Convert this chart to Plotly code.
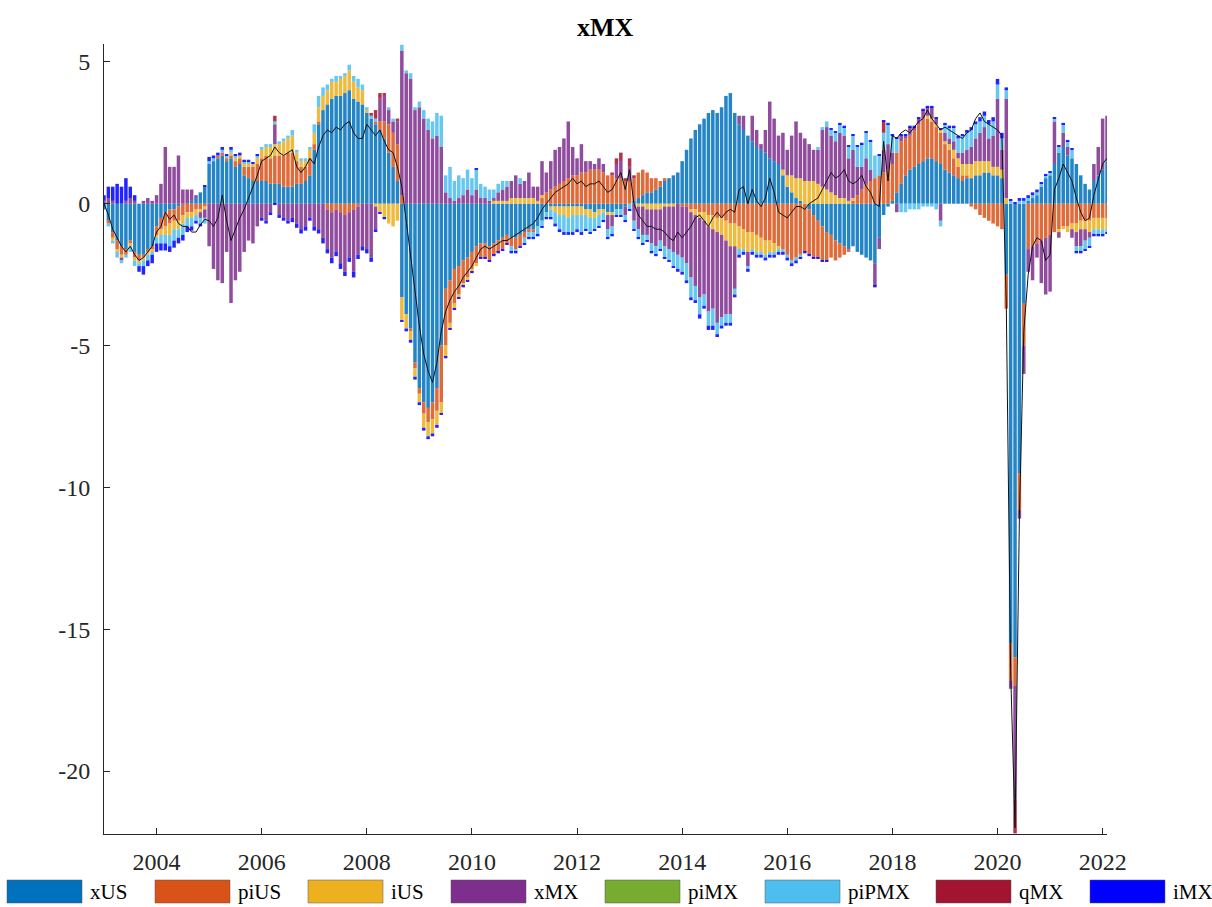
import plotly.graph_objects as go

# Historical decomposition of xMX, monthly contributions Jan 2003 - Feb 2022
START_YEAR = 2003

xUS = [
    -0.2, -0.6, -1.0, -1.3, -1.5, -1.6, -1.3, -1.7, -1.8, -1.8, -1.6, -1.5,   # 2003
    -0.8, -0.5, -0.3, -0.2, -0.2, -0.1, 0.0, 0.0, 0.1, 0.2, 0.4, 0.6,         # 2004
    1.4, 1.5, 1.6, 1.7, 1.5, 1.6, 1.3, 1.4, 1.0, 0.9, 0.8, 0.8,               # 2005
    0.8, 0.8, 0.7, 0.7, 0.7, 0.6, 0.6, 0.6, 0.7, 0.7, 0.8, 1.0,               # 2006
    1.9, 2.8, 3.3, 3.5, 3.7, 3.8, 3.8, 3.9, 4.0, 3.7, 3.6, 3.5,               # 2007
    3.2, 3.0, 2.8, 2.6, 2.3, 1.8, 1.3, 0.8, -3.3, -3.9, -4.4, -5.6,           # 2008
    -6.5, -7.0, -7.2, -7.0, -6.5, -5.0, -3.0, -2.7, -2.3, -2.2, -2.0, -1.9,   # 2009
    -1.7, -1.5, -1.4, -1.4, -1.5, -1.4, -1.3, -1.2, -1.1, -1.2, -1.2, -1.1,   # 2010
    -1.0, -0.9, -0.9, -0.8, -0.6, -0.3, -0.1, -0.1, -0.1, -0.1, -0.1, -0.1,   # 2011
    -0.1, -0.1, -0.2, -0.2, -0.3, -0.2, -0.2, -0.3, -0.3, -0.2, -0.2, -0.1,   # 2012
    0.0, 0.1, 0.2, 0.3, 0.4, 0.4, 0.5, 0.6, 0.8, 0.9, 1.0, 1.1,               # 2013
    1.5, 1.9, 2.3, 2.6, 2.8, 3.0, 3.2, 3.3, 3.2, 3.4, 3.8, 3.9,               # 2014
    3.2, 2.8, 2.6, 2.4, 2.2, 2.0, 1.9, 1.8, 1.6, 1.5, 1.4, 1.0,               # 2015
    0.6, 0.4, 0.2, 0.1, 0.0, -0.2, -0.4, -0.6, -0.8, -1.0, -1.1, -1.3,        # 2016
    -1.4, -1.5, -1.6, -1.5, -1.7, -1.8, -1.9, -2.0, -2.1, -1.2, -0.4, -0.1,   # 2017
    0.1, 0.4, 0.7, 1.0, 1.2, 1.3, 1.4, 1.5, 1.6, 1.6, 1.5, 1.4,               # 2018
    1.2, 1.1, 1.0, 0.9, 0.8, 0.9, 0.9, 1.0, 1.0, 1.1, 1.1, 1.0,               # 2019
    1.0, 0.9, -2.5, -15.5, -16.0, -9.5, -3.5, 0.1, 0.2, 0.3, 0.6, 0.9,        # 2020
    1.0, 1.4, 1.8, 2.0, 1.7, 1.6, 1.4, 1.0, 0.7, 0.5, 0.8, 1.0,               # 2021
    1.2, 1.5,                                                                 # 2022
]

piUS = [
    0.0, -0.1, -0.2, -0.3, -0.3, -0.2, -0.1, -0.2, -0.2, -0.1, -0.1, -0.1,
    -0.3, -0.4, -0.5, -0.5, -0.4, -0.5, -0.4, -0.3, -0.3, -0.2, -0.2, -0.1,
    0.0, 0.0, 0.1, 0.1, 0.1, 0.1, 0.2, 0.2, 0.3, 0.4, 0.5, 0.6,
    0.8, 0.9, 0.9, 1.0, 1.0, 1.1, 1.2, 1.2, 0.8, 0.6, 0.5, 0.6,
    0.2, 0.1, 0.0, -0.2, -0.3, -0.2, -0.3, -0.4, -0.3, -0.2, -0.1, 0.0,
    0.0, 0.0, 0.1, 0.3, 0.6, 1.0, 1.2, 1.3, 0.3, 0.0, -0.1, -0.2,
    -0.2, -0.4, -0.5, -0.6, -0.8, -2.0, -2.0, -1.5, -1.2, -1.0, -0.8, -0.7,
    -0.6, -0.6, -0.5, -0.5, -0.5, -0.4, -0.4, -0.4, -0.3, -0.3, -0.4, -0.4,
    -0.2, -0.1, -0.1, 0.0, 0.2, 0.4, 0.5, 0.6, 0.7, 0.8, 0.9, 1.0,
    1.0, 1.1, 1.1, 1.2, 1.2, 1.2, 1.1, 1.0, 1.0, 0.9, 0.9, 0.8,
    0.8, 0.8, 0.9, 0.9, 0.7, 0.5, 0.4, 0.2, 0.1, 0.0, 0.0, 0.0,
    -0.1, -0.1, -0.2, -0.2, -0.3, -0.3, -0.4, -0.4, -0.5, -0.5, -0.6, -0.7,
    -0.7, -0.8, -0.9, -1.0, -1.0, -1.1, -1.2, -1.3, -1.3, -1.4, -1.5, -1.6,
    -1.8, -2.0, -1.9, -1.8, -1.7, -1.6, -1.5, -1.3, -1.2, -1.0, -0.8, -0.7,
    -0.5, -0.3, -0.1, 0.1, 0.3, 0.5, 0.7, 0.8, 0.9, 1.0, 1.1, 1.2,
    1.3, 1.4, 1.5, 1.3, 1.2, 1.3, 1.4, 1.5, 1.4, 1.3, 1.2, 1.1,
    0.9, 0.8, 0.6, 0.4, 0.2, 0.1, -0.1, -0.2, -0.4, -0.5, -0.6, -0.7,
    -0.8, -0.9, -1.2, -1.3, -1.0, -1.3, -1.5, -1.6, -1.5, -1.4, -1.3, -1.2,
    -1.1, -1.0, -0.9, -0.8, -0.8, -0.7, -0.7, -0.6, -0.6, -0.6, -0.5, -0.5,
    -0.5, -0.5,
]

iUS = [
    0.0, 0.0, -0.1, -0.1, -0.1, 0.0, -0.1, -0.1, -0.1, -0.1, -0.1, -0.1,
    -0.1, -0.2, -0.3, -0.4, -0.3, -0.3, -0.3, -0.2, -0.2, -0.2, -0.1, -0.1,
    0.0, 0.0, 0.0, 0.0, 0.0, 0.1, 0.1, 0.1, 0.1, 0.1, 0.1, 0.2,
    0.3, 0.3, 0.4, 0.4, 0.4, 0.5, 0.5, 0.6, 0.3, 0.2, 0.2, 0.3,
    0.4, 0.5, 0.5, 0.5, 0.6, 0.5, 0.6, 0.6, 0.7, 0.6, 0.5, 0.5,
    0.1, 0.0, -0.1, -0.3, -0.5, -0.7, -0.8, -0.6, -0.8, -0.5, -0.3, -0.3,
    -0.3, -0.5, -0.5, -0.5, -0.5, -0.4, -0.4, -0.2, -0.2, -0.1, -0.1, -0.1,
    -0.1, -0.1, 0.0, 0.0, 0.0, 0.1, 0.1, 0.1, 0.1, 0.2, 0.2, 0.2,
    0.2, 0.2, 0.2, 0.1, 0.1, 0.0, -0.1, -0.2, -0.3, -0.3, -0.4, -0.3,
    -0.3, -0.3, -0.2, -0.3, -0.2, -0.2, -0.1, -0.1, -0.1, 0.0, 0.0, 0.0,
    0.0, 0.0, -0.1, -0.1, -0.2, -0.2, -0.2, -0.2, -0.1, -0.1, -0.1, 0.0,
    0.0, 0.0, -0.1, -0.2, -0.2, -0.3, -0.4, -0.5, -0.5, -0.6, -0.7, -0.8,
    -0.8, -0.8, -0.7, -0.7, -0.6, -0.6, -0.5, -0.5, -0.4, -0.3, -0.1, 0.2,
    0.4, 0.6, 0.7, 0.8, 0.8, 0.8, 0.8, 0.7, 0.6, 0.5, 0.4, 0.3,
    0.2, 0.2, 0.1, 0.1, 0.0, 0.0, 0.0, 0.0, 0.0, 0.0, 0.0, 0.0,
    0.0, 0.0, 0.0, 0.0, 0.0, 0.0, 0.0, 0.0, 0.1, 0.1, 0.1, 0.1,
    0.1, 0.2, 0.3, 0.3, 0.4, 0.4, 0.5, 0.5, 0.5, 0.4, 0.4, 0.3,
    0.3, 0.3, 0.2, 0.0, 0.0, 0.0, 0.0, 0.0, 0.0, 0.0, 0.0, 0.0,
    0.0, 0.0, -0.1, -0.1, -0.2, -0.2, -0.3, -0.3, -0.3, -0.4, -0.4, -0.4,
    -0.4, -0.4,
]

xMX = [
    0.1, 0.2, 0.1, 0.0, -0.1, 0.1, 0.2, 0.1, 0.0, 0.1, 0.2, 0.1,
    0.3, 0.7, 2.0, 1.3, 1.3, 1.7, 0.5, 0.5, 0.4, 0.1, -0.2, -0.3,
    -1.5, -2.3, -2.7, -2.8, -1.7, -3.5, -2.7, -2.4, -1.7, -1.3, -1.4, -0.8,
    -0.5, -0.6, -0.3, 0.7, -0.4, -0.5, -0.6, -0.5, -0.7, -0.9, -0.8, -0.5,
    -0.8, -0.9, -1.2, -1.4, -1.6, -1.5, -1.8, -2.0, -1.6, -2.2, -1.7, -1.5,
    -1.6, -1.9, -0.8, 0.8, 0.9, 0.5, 0.4, 0.8, 5.1, 4.6, 4.4, 3.3,
    3.4, 3.0, 2.6, 2.3, 2.4, 2.0, 0.4, 0.2, 0.1, 0.2, 0.3, 0.5,
    0.3, 0.5, 0.2, 0.2, 0.1, 0.1, 0.3, 0.4, 0.5, 0.6, 0.8, 0.5,
    0.6, 0.9, 0.4, 0.5, 1.2, 0.7, 1.0, 1.3, 1.3, 1.5, 2.0, 1.0,
    0.6, 1.0, 0.4, 0.3, 0.2, 0.4, 0.3, -0.5, -0.4, 0.5, 0.6, -0.3,
    0.5, -0.6, -0.8, -1.0, -0.9, -1.2, -1.3, -1.1, -1.4, -1.5, -1.6, -1.8,
    -1.8, -2.0, -2.3, -2.5, -2.8, -2.6, -3.0, -2.8, -3.2, -2.9, -2.6, -2.4,
    -1.5, 0.3, 0.5, -0.5, 0.9, 0.6, 0.2, 0.8, 2.0, 1.5, 1.0, 1.3,
    0.9, 1.4, 2.0, 1.6, 1.5, 1.3, 1.1, 1.2, 2.0, 2.2, 2.0, 1.9,
    2.3, 2.2, 1.5, 1.7, 1.0, 0.8, 0.9, 0.4, -0.8, -0.4, 0.8, 0.9,
    0.4, -0.3, 0.2, 0.1, 0.3, 0.1, 0.2, 0.3, 0.3, 0.4, 0.2, -0.6,
    0.3, 0.2, 0.3, 0.2, 0.4, 0.5, 0.6, 0.8, 1.0, 1.2, 0.8, 1.1,
    2.4, 0.7, 3.5, -0.3, -4.0, -0.3, -1.0, -0.8, -1.2, -0.5, -1.5, -2.0,
    -2.0, 1.5, -0.2, 0.5, 0.3, -0.3, -0.5, -0.6, -0.4, -0.2, 0.6, 1.0,
    1.8, 1.6,
]

piMX = [
    0.0, 0.0, 0.0, 0.0, 0.0, 0.0, 0.0, 0.0, 0.0, 0.0, 0.0, 0.0,
    0.0, 0.0, 0.0, 0.0, 0.0, 0.0, 0.0, 0.0, 0.0, 0.0, 0.0, 0.0,
    0.0, 0.0, 0.0, 0.0, 0.0, 0.0, 0.0, 0.0, 0.0, 0.0, 0.0, 0.0,
    0.0, 0.0, 0.0, 0.0, 0.0, 0.0, 0.0, 0.0, 0.0, 0.0, 0.0, 0.0,
    0.0, 0.0, 0.0, 0.0, 0.0, 0.0, 0.0, 0.0, 0.0, 0.0, 0.0, 0.0,
    0.0, 0.0, 0.0, 0.0, 0.0, 0.0, 0.0, 0.0, 0.0, 0.0, 0.0, 0.0,
    0.0, 0.0, 0.0, 0.0, 0.0, 0.0, 0.0, 0.0, 0.0, 0.0, 0.0, 0.0,
    0.0, 0.0, 0.0, 0.0, 0.0, 0.0, 0.0, 0.0, 0.0, 0.0, 0.0, 0.0,
    0.0, 0.0, 0.0, 0.0, 0.0, 0.0, 0.0, 0.0, 0.0, 0.0, 0.0, 0.0,
    0.0, 0.0, 0.0, 0.0, 0.0, 0.0, 0.0, 0.0, 0.0, 0.0, 0.0, 0.0,
    0.0, 0.0, 0.0, 0.0, 0.0, 0.0, 0.0, 0.0, 0.0, 0.0, 0.0, 0.0,
    0.0, 0.0, 0.0, 0.0, 0.0, 0.0, 0.0, 0.0, 0.0, 0.0, 0.0, 0.0,
    0.0, 0.0, 0.0, 0.0, 0.0, 0.0, 0.0, 0.0, 0.0, 0.0, 0.0, 0.0,
    0.0, 0.0, 0.0, 0.0, 0.0, 0.0, 0.0, 0.0, 0.0, 0.0, 0.0, 0.0,
    0.0, 0.0, 0.0, 0.0, 0.0, 0.0, 0.0, 0.0, 0.0, 0.0, 0.0, 0.0,
    0.0, 0.0, 0.0, 0.0, 0.0, 0.0, 0.0, 0.0, 0.0, 0.0, 0.0, 0.0,
    0.0, 0.0, 0.0, 0.0, 0.0, 0.0, 0.0, 0.0, 0.0, 0.0, 0.0, 0.0,
    0.0, 0.0, 0.0, 0.0, 0.0, 0.0, 0.0, 0.0, 0.0, 0.0, 0.0, 0.0,
    0.0, 0.0, 0.0, 0.0, 0.0, 0.0, 0.0, 0.0, 0.0, 0.0, 0.0, 0.0,
    0.0, 0.0,
]

piPMX = [
    0.0, -0.1, -0.1, -0.2, -0.1, -0.1, -0.2, -0.2, -0.1, -0.2, -0.2, -0.1,
    -0.2, -0.3, -0.3, -0.4, -0.4, -0.3, -0.4, -0.3, -0.3, -0.2, -0.2, -0.2,
    0.1, 0.1, 0.0, 0.1, 0.1, 0.1, 0.1, 0.0, 0.1, 0.1, 0.0, 0.1,
    0.1, 0.1, 0.1, 0.1, 0.1, 0.1, 0.1, 0.2, 0.1, 0.1, 0.1, 0.1,
    0.3, 0.4, 0.3, 0.2, 0.1, 0.2, 0.1, 0.1, 0.2, 0.2, 0.3, 0.2,
    0.1, 0.1, 0.1, 0.0, 0.0, 0.1, 0.1, 0.0, 0.2, 0.1, 0.2, 0.1,
    0.2, 0.3, 0.4, 0.6, 0.8, 1.1, 0.6, 1.1, 0.7, 0.8, 0.6, 0.7,
    0.6, 0.7, 0.5, 0.4, 0.4, 0.3, 0.3, 0.3, 0.2, -0.2, -0.1, 0.2,
    -0.2, -0.2, -0.2, -0.3, -0.2, -0.2, -0.3, -0.4, -0.5, -0.6, -0.5, -0.6,
    -0.5, -0.6, -0.5, -0.5, -0.4, -0.4, -0.3, -0.3, -0.3, -0.2, -0.2, -0.2,
    -0.2, -0.3, -0.3, -0.3, -0.2, -0.3, -0.3, -0.3, -0.4, -0.4, -0.5, -0.5,
    -0.5, -0.6, -0.7, -0.5, -0.6, -0.4, -0.5, -0.6, -0.4, -0.3, -0.3, -0.3,
    -0.2, -0.2, -0.1, -0.1, -0.1, -0.1, -0.1, -0.1, -0.1, -0.1, -0.1, -0.1,
    -0.1, -0.1, -0.1, -0.1, 0.0, 0.0, 0.0, 0.1, 0.1, 0.2, 0.2, 0.3,
    0.3, 0.3, 0.4, 0.5, 0.7, 0.8, 0.9, 1.0, 0.8, 0.7, 0.6, 0.7,
    0.6, 0.5, -0.3, -0.3, -0.2, -0.2, -0.2, -0.1, -0.1, -0.1, -0.2, -0.2,
    0.3, 0.4, 0.5, 0.5, 0.6, 0.6, 0.6, 0.5, 0.4, 0.4, 0.5, 0.5,
    0.5, 0.4, 0.3, 0.1, 0.0, 0.1, 0.1, 0.1, 0.1, 0.1, 0.1, 0.1,
    0.1, 0.1, 0.2, 0.3, 0.2, 0.3, -0.2, -0.2, -0.3, -0.3, -0.2, -0.2,
    -0.2, -0.1,
]

qMX = [
    0.0, 0.0, 0.0, 0.0, 0.0, 0.0, 0.0, 0.0, 0.0, 0.0, 0.0, 0.0,
    0.0, 0.0, 0.0, 0.0, 0.0, 0.0, 0.0, 0.0, 0.0, 0.0, 0.0, 0.0,
    0.0, 0.0, 0.0, 0.0, 0.0, 0.0, 0.0, 0.0, 0.0, 0.0, 0.0, 0.0,
    0.0, 0.0, 0.0, 0.2, 0.0, 0.0, 0.0, 0.0, 0.0, 0.0, 0.0, 0.0,
    0.0, 0.0, 0.0, 0.0, 0.0, 0.0, 0.0, 0.0, 0.0, 0.0, 0.0, 0.0,
    0.0, 0.1, 0.3, 0.2, 0.1, 0.0, 0.0, 0.1, 0.0, 0.0, 0.0, 0.0,
    0.0, 0.0, 0.0, 0.0, 0.0, 0.0, 0.0, 0.0, 0.0, 0.0, 0.0, 0.0,
    0.0, 0.0, 0.0, 0.0, 0.0, 0.0, 0.0, 0.0, 0.0, 0.0, 0.0, 0.0,
    0.0, 0.0, 0.0, 0.0, 0.0, 0.0, 0.0, 0.0, 0.0, 0.0, 0.0, 0.0,
    0.0, 0.0, 0.0, 0.0, 0.0, 0.0, 0.0, 0.0, 0.1, 0.2, 0.3, 0.1,
    0.3, 0.1, 0.0, 0.0, 0.0, 0.0, 0.0, 0.0, 0.0, 0.0, 0.0, 0.0,
    0.0, 0.0, 0.0, 0.0, 0.0, 0.0, 0.0, 0.0, 0.0, 0.0, 0.0, 0.0,
    0.0, 0.0, 0.0, 0.0, 0.0, 0.0, 0.0, 0.0, 0.0, 0.0, 0.0, 0.0,
    0.0, 0.0, 0.0, 0.0, 0.0, 0.0, 0.0, 0.0, 0.0, 0.0, 0.0, 0.0,
    0.0, 0.0, 0.0, 0.0, 0.0, 0.0, 0.0, 0.0, 0.0, 0.0, 0.4, 0.0,
    0.0, 0.0, 0.0, 0.0, 0.0, 0.0, 0.0, 0.0, 0.0, 0.0, 0.0, 0.0,
    0.0, 0.0, 0.0, 0.0, 0.0, 0.0, 0.0, 0.0, 0.0, 0.0, 0.0, 0.0,
    0.0, 0.0, 0.0, 0.0, -1.2, 0.0, 0.0, 0.0, 0.0, 0.0, 0.0, 0.0,
    0.0, 0.0, 0.0, 0.0, 0.0, 0.0, 0.0, 0.0, 0.0, 0.0, 0.0, 0.0,
    0.0, 0.0,
]

iMX = [
    0.2, 0.4, 0.5, 0.7, 0.6, 0.8, 0.4, 0.2, -0.2, -0.3, -0.2, -0.3,
    -0.3, -0.25, -0.25, -0.2, -0.25, -0.2, -0.2, -0.2, -0.15, -0.1, -0.1, 0.05,
    0.15, 0.1, 0.1, 0.1, 0.05, 0.1, 0.05, 0.1, 0.05, 0.05, 0.05, 0.05,
    -0.1, -0.1, -0.1, -0.05, -0.1, -0.1, -0.1, -0.15, -0.15, -0.15, -0.15, -0.1,
    -0.15, -0.15, -0.2, -0.15, -0.2, -0.15, -0.2, -0.15, -0.15, -0.2, -0.15, -0.15,
    -0.15, -0.15, -0.1, -0.05, -0.05, 0.0, 0.0, 0.0, -0.05, -0.1, -0.1, -0.1,
    -0.1, -0.1, -0.1, -0.1, -0.1, -0.05, -0.05, -0.05, -0.05, -0.05, -0.05, -0.05,
    -0.05, 0.05, -0.05, -0.05, -0.05, -0.05, -0.05, -0.05, -0.05, -0.05, -0.05, -0.05,
    -0.05, -0.05, -0.05, -0.05, -0.05, -0.05, -0.05, -0.1, -0.1, -0.1, -0.1, -0.1,
    -0.1, -0.1, -0.05, -0.05, -0.05, -0.05, -0.05, -0.05, -0.05, -0.05, -0.05, -0.05,
    -0.05, -0.05, -0.05, -0.05, -0.05, -0.05, -0.05, -0.05, -0.05, -0.05, -0.05, -0.1,
    -0.1, -0.1, -0.1, -0.1, -0.15, -0.1, -0.15, -0.15, -0.1, -0.1, -0.1, -0.1,
    -0.1, -0.1, -0.1, -0.1, -0.1, -0.1, -0.1, -0.1, -0.1, -0.1, -0.1, -0.1,
    -0.1, -0.1, -0.1, -0.05, -0.05, -0.05, -0.05, -0.05, -0.05, -0.05, 0.05, 0.05,
    0.05, 0.05, 0.05, 0.05, 0.05, 0.05, 0.05, 0.05, -0.05, 0.05, 0.05, 0.05,
    0.05, 0.05, 0.05, 0.05, 0.05, 0.05, 0.05, 0.05, 0.05, 0.05, 0.05, 0.05,
    0.05, 0.05, 0.05, 0.1, 0.05, 0.1, 0.1, 0.1, 0.15, 0.15, 0.15, 0.15,
    0.2, 0.2, 0.1, 0.05, 0.05, 0.1, 0.1, 0.1, 0.1, 0.1, 0.05, 0.05,
    0.05, 0.05, 0.05, 0.05, 0.05, 0.05, -0.05, -0.05, -0.05, -0.05, -0.05, -0.05,
    -0.05, -0.05,
]

# observed xMX (black line)
actual = [
    0.0, -0.4, -0.9, -1.2, -1.5, -1.7, -1.5, -1.8, -2.0, -1.9, -1.7, -1.5,
    -1.0, -0.8, -0.3, -0.55, -0.4, -0.7, -0.8, -0.8, -1.0, -1.0, -0.75, -0.55,
    -0.6, -0.8, -0.5, 0.3, -0.6, -1.3, -0.9, -0.5, -0.2, 0.2, 0.6, 1.0,
    1.5, 1.6, 1.7, 2.0, 1.8, 1.7, 1.8, 1.9, 1.3, 1.1, 1.3, 1.6,
    1.4, 2.0, 2.4, 2.6, 2.5, 2.7, 2.6, 2.8, 2.9, 2.5, 2.3, 2.3,
    2.8, 2.6, 2.4, 2.6, 2.2, 1.9, 1.8, 1.3, 0.6, -0.6, -1.8, -3.2,
    -4.3, -5.3, -5.9, -6.3, -5.6, -4.5, -3.8, -3.4, -3.1, -2.9, -2.6, -2.4,
    -2.2, -1.9, -1.6, -1.5, -1.6, -1.5, -1.4, -1.3, -1.3, -1.2, -1.1, -1.0,
    -0.9, -0.8, -0.7, -0.5, -0.2, 0.0, 0.2, 0.4, 0.5, 0.6, 0.7, 0.9,
    0.7, 0.8, 0.6, 0.7, 0.7, 0.8, 0.6, 0.4, 0.5, 0.8, 1.1, 0.5,
    1.2, 0.0, -0.4, -0.6, -0.8, -0.8, -0.9, -0.9, -1.0, -1.2, -1.3, -1.0,
    -1.2, -1.0, -0.8, -0.5, -0.4, -0.6, -0.8, -0.5, -0.3, -0.5, -0.3, -0.2,
    -0.3, 0.5, 0.6, 0.0, 0.5, 0.1, -0.1, 0.2, 0.9, 0.4, -0.3, -0.4,
    -0.5, -0.3, -0.1, -0.1, -0.2, 0.0, 0.1, 0.2, 0.5, 0.8, 1.1, 0.9,
    1.0, 1.2, 0.8, 0.7, 0.8, 1.0, 0.6, 0.4, 0.0, -0.1, 2.2, 0.8,
    2.4, 2.3, 2.5, 2.6, 2.5, 2.7, 2.9, 3.0, 3.3, 3.0, 2.8, 2.6,
    2.7, 2.6, 2.5, 2.4, 2.3, 2.5, 2.6, 3.0, 3.2, 2.9, 2.8, 2.7,
    2.6, 2.4, -3.5, -16.5, -22.0, -11.0, -4.5, -2.5, -1.5, -1.2, -1.3, -2.0,
    -1.8, 0.5, 0.9, 1.4, 1.1, 0.8, 0.2, -0.3, -0.6, -0.5, 0.3, 0.9,
    1.4, 1.6,
]

series_names = ["xUS", "piUS", "iUS", "xMX", "piMX", "piPMX", "qMX", "iMX"]
series_values = [xUS, piUS, iUS, xMX, piMX, piPMX, qMX, iMX]
series_colors = ["#0072BD", "#D95319", "#EDB120", "#7E2F8E",
                 "#77AC30", "#4DBEEE", "#A2142F", "#0000FF"]

year_ticks = [2004, 2006, 2008, 2010, 2012, 2014, 2016, 2018, 2020, 2022]
y_ticks = [-20, -15, -10, -5, 0, 5]

n = len(actual)
for name, vals in zip(series_names, series_values):
    if len(vals) != n:
        raise ValueError(f"{name} has {len(vals)} values, expected {n}")

# monthly positions as decimal years
months = [START_YEAR + i / 12 for i in range(n)]

fig = go.Figure()
for name, vals, col in zip(series_names, series_values, series_colors):
    fig.add_trace(go.Bar(x=months, y=vals, name=name,
                         marker=dict(color=col, line=dict(width=0)),
                         opacity=0.86, showlegend=False))

fig.add_trace(go.Scatter(x=months, y=actual, mode="lines",
                         line=dict(color="#111111", width=1),
                         showlegend=False))

W, H = 1212, 907
ML, MR, MT, MB = 104, 105, 44, 73
PW, PH = W - ML - MR, H - MT - MB
AXIS_COL = "#262626"
FONT = "Liberation Serif, Times New Roman, serif"


def px_x(px):
    return (px - ML) / PW


def px_y(py):
    return (H - MB - py) / PH


# legend row drawn underneath the axes
shapes, annotations = [], []
patch_w, patch_gap, item_gap = 75, 6, 31
text_w = {"xUS": 36, "piUS": 41, "iUS": 31, "xMX": 42,
          "piMX": 48, "piPMX": 59, "qMX": 42, "iMX": 38}
cursor = 7
for name, col in zip(series_names, series_colors):
    shapes.append(dict(type="rect", xref="paper", yref="paper",
                       x0=px_x(cursor), x1=px_x(cursor + patch_w),
                       y0=px_y(903), y1=px_y(880),
                       fillcolor=col, line=dict(width=0.5, color="#555555"),
                       layer="above"))
    annotations.append(dict(xref="paper", yref="paper",
                            x=px_x(cursor + patch_w + patch_gap), y=px_y(891.5),
                            xanchor="left", yanchor="middle", showarrow=False,
                            text=name, font=dict(family=FONT, size=21, color="#000000")))
    cursor += patch_w + patch_gap + text_w[name] + item_gap

annotations.append(dict(xref="paper", yref="paper", x=0.5, y=px_y(28),
                        xanchor="center", yanchor="middle", showarrow=False,
                        text="<b>xMX</b>",
                        font=dict(family=FONT, size=26, color="#000000")))

fig.update_layout(
    width=W, height=H,
    margin=dict(l=ML, r=MR, t=MT, b=MB),
    paper_bgcolor="white", plot_bgcolor="white",
    barmode="relative", bargap=0.2,
    showlegend=False,
    font=dict(family=FONT, size=24, color=AXIS_COL),
    shapes=shapes, annotations=annotations,
    xaxis=dict(range=[START_YEAR, 2022.083], tickmode="array",
               tickvals=year_ticks, ticktext=[str(y) for y in year_ticks],
               ticks="inside", ticklen=6, tickcolor=AXIS_COL, tickwidth=1,
               showline=True, linecolor=AXIS_COL, linewidth=1,
               showgrid=False, zeroline=False, ticklabelstandoff=6),
    yaxis=dict(range=[-22.22, 5.63], tickmode="array",
               tickvals=y_ticks, ticktext=[str(v) for v in y_ticks],
               ticks="inside", ticklen=6, tickcolor=AXIS_COL, tickwidth=1,
               showline=True, linecolor=AXIS_COL, linewidth=1,
               showgrid=False, zeroline=False, ticklabelstandoff=8),
)

fig.write_html("out.html")
